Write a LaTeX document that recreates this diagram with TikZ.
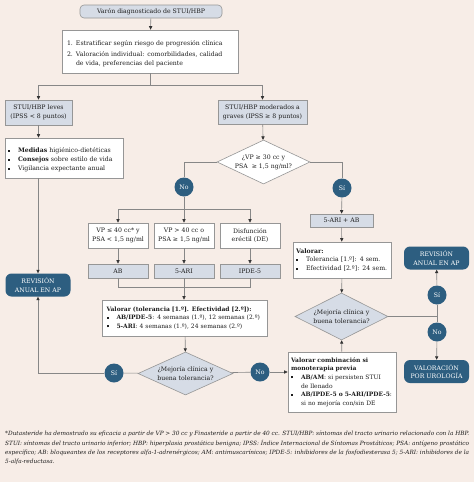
\documentclass[tikz,border=0pt]{standalone}
\usepackage{fontspec}
\setmainfont{DejaVu Serif}
\usetikzlibrary{shapes.geometric,arrows.meta}

\definecolor{bgpink}{RGB}{247,237,231}
\definecolor{boxblue}{RGB}{214,220,230}
\definecolor{edgegray}{RGB}{150,150,150}
\definecolor{linegray}{RGB}{135,135,135}
\definecolor{darkblue}{RGB}{45,94,128}
\definecolor{txt}{RGB}{30,30,30}

\newcommand{\numit}[2]{\par\hangindent=9pt\hangafter=1\noindent\makebox[9pt][l]{#1}#2\par}
\newcommand{\bul}[1]{\par\hangindent=10pt\hangafter=1\noindent\makebox[10pt][l]{\raisebox{1pt}{\rule{2pt}{2pt}}}#1\par}

\begin{document}
\begin{tikzpicture}[x=1pt,y=-1pt,
  every node/.style={font=\fontsize{6.2}{8.8}\selectfont, text=txt},
  small/.style={font=\fontsize{6}{8.6}\selectfont},
  wbox/.style={draw=edgegray, fill=white, line width=0.6pt, inner xsep=4pt, inner ysep=2pt, align=left},
  gbox/.style={draw=edgegray, fill=boxblue, line width=0.6pt, inner sep=1pt, align=center},
  decision/.style={diamond, draw=edgegray, line width=0.6pt, inner sep=0pt, aspect=2.1, align=center},
  answer/.style={circle, fill=darkblue, text=white, minimum size=19pt, inner sep=0pt},
  review/.style={rounded corners=6pt, fill=darkblue, text=white, align=center, minimum width=65pt, minimum height=23pt, inner sep=1pt, font=\fontsize{6.2}{8.6}\selectfont},
  line/.style={draw=linegray, line width=0.6pt},
  arr/.style={line, -{Triangle[length=3.5pt,width=3.2pt,color=black!80]}}]

  \useasboundingbox (0,0) rectangle (474,482);
  \fill[bgpink] (0,0) rectangle (474,482);

  % top of the tree
  \node (top) at (151,11.5) [gbox, rounded corners=4pt, minimum width=142pt, minimum height=13pt] {Varón diagnosticado de STUI/HBP};
  \node (strat) at (150,51.5) [wbox, inner xsep=5pt, text width=166pt, minimum height=43pt]
    {\numit{1.}{Estratificar según riesgo de progresión clínica}\vspace{2pt}%
     \numit{2.}{Valoración individual: comorbilidades, calidad\newline de vida, preferencias del paciente}};
  \node (leves) at (38.5,112.5) [gbox, minimum width=67pt, minimum height=25pt] {STUI/HBP leves\\(IPSS < 8 puntos)};
  \node (mod) at (262.5,112) [gbox, minimum width=89pt, minimum height=24pt] {STUI/HBP moderados a\\graves (IPSS ≥ 8 puntos)};

  % left branch
  \node (medidas) at (64,158) [wbox, inner xsep=3pt, text width=112pt, minimum height=40pt]
    {\bul{\textbf{Medidas} higiénico-dietéticas}\bul{\textbf{Consejos} sobre estilo de vida}\bul{Vigilancia expectante anual}};
  \node (rev1) at (38,285) [review] {REVISIÓN\\ANUAL EN AP};

  % moderate / severe
  \node (q1) at (263.5,162) [decision, fill=white, minimum width=93pt, minimum height=44pt] {¿VP ≥ 30 cc y\\PSA ~≥ 1,5 ng/ml?};
  \node (no1) at (184,187) [answer] {No};
  \node (si1) at (342,188) [answer] {Sí};

  \node (vp1) at (118,235.5) [wbox, inner xsep=1pt, align=center, minimum width=60pt, minimum height=25pt] {VP ≤ 40 cc* y\\PSA < 1,5 ng/ml};
  \node (vp2) at (184,235.5) [wbox, inner xsep=1pt, align=center, minimum width=60pt, minimum height=25pt] {VP > 40 cc o\\PSA ≥ 1,5 ng/ml};
  \node (de) at (250,235.5) [wbox, inner xsep=1pt, align=center, minimum width=60pt, minimum height=25pt] {Disfunción\\eréctil (DE)};
  \node (ab) at (118,271) [gbox, minimum width=60pt, minimum height=14pt] {AB};
  \node (ari) at (184,271) [gbox, minimum width=60pt, minimum height=14pt] {5-ARI};
  \node (ipde) at (250,271) [gbox, minimum width=60pt, minimum height=14pt] {IPDE-5};

  \node (val1) at (185,318) [wbox, small, text width=157pt, minimum height=36pt]
    {\textbf{Valorar (tolerancia [1.º]. Efectividad [2.º]):}\bul{\textbf{AB/IPDE-5}: 4 semanas (1.º), 12 semanas (2.º)}\bul{\textbf{5-ARI}: 4 semanas (1.º), 24 semanas (2.º)}};
  \node (q2) at (185.5,373.5) [decision, fill=boxblue, minimum width=95pt, minimum height=43pt] {¿Mejoría clínica y\\buena tolerancia?};
  \node (si2) at (114,373) [answer] {Sí};
  \node (no2) at (260,372) [answer] {No};
  \node (comb) at (342,382) [wbox, small, inner xsep=3pt, text width=102pt, minimum height=60pt]
    {\textbf{Valorar combinación si}\newline\textbf{monoterapia previa}\bul{\textbf{AB/AM}: si persisten STUI\newline de llenado}\bul{\textbf{AB/IPDE-5 o 5-ARI/IPDE-5}:\newline si no mejoría con/sin DE}};

  % combination branch
  \node (scomb) at (341.5,220.5) [gbox, minimum width=63pt, minimum height=13pt] {5-ARI + AB};
  \node (val2) at (342,260) [wbox, inner xsep=3pt, text width=92pt, minimum height=36pt]
    {\textbf{Valorar:}\bul{Tolerancia [1.º]: 4 sem.}\bul{Efectividad [2.º]: 24 sem.}};
  \node (q3) at (341.5,316.5) [decision, fill=boxblue, minimum width=93pt, minimum height=47pt] {¿Mejoría clínica y\\buena tolerancia?};
  \node (si3) at (437,295) [answer] {Sí};
  \node (no3) at (437,332) [answer] {No};
  \node (rev2) at (436.5,258) [review] {REVISIÓN\\ANUAL EN AP};
  \node (uro) at (436.5,371.5) [review] {VALORACIÓN\\POR UROLOGÍA};

  % footnote
  \node (notes) at (5,431) [anchor=north west, text width=464pt, align=justify, inner sep=0pt, font=\fontsize{5.8}{9.2}\selectfont\itshape]
    {\hyphenpenalty=10000 *Dutasteride ha demostrado su eficacia a partir de VP > 30 cc y Finasteride a partir de 40 cc. STUI/HBP: síntomas del tracto urinario relacionado con la HBP.\linebreak
     STUI: síntomas del tracto urinario inferior; HBP: hiperplasia prostática benigna; IPSS: Índice Internacional de Síntomas Prostáticos; PSA: antígeno prostático\linebreak
     específico; AB: bloqueantes de los receptores alfa-1-adrenérgicos; AM: antimuscarínicos; IPDE-5: inhibidores de la fosfodiesterasa 5; 5-ARI: inhibidores de la\linebreak
     5-alfa-reductasa.};

  % connectors
  \coordinate (fork1) at (150,85);
  \coordinate (fork2) at (184,209);
  \coordinate (join1) at (184,287);
  \coordinate (fork3) at (437,316.5);

  \draw[arr] (top) -- (strat);
  \draw[line] (strat) -- (fork1);
  \draw[arr] (fork1) -| (leves);
  \draw[arr] (fork1) -| (mod);
  \draw[arr] (leves) -- (leves |- medidas.north);
  \draw[arr] (medidas.south -| rev1) -- (rev1);
  \draw[arr] (mod) -- (q1);
  \draw[line] (q1) -| (no1);
  \draw[line] (q1) -| (si1);
  \draw[line] (no1) -- (fork2);
  \draw[arr] (fork2) -| (vp1);
  \draw[arr] (fork2) -- (vp2);
  \draw[arr] (fork2) -| (de);
  \draw[arr] (vp1) -- (ab);
  \draw[arr] (vp2) -- (ari);
  \draw[arr] (de) -- (ipde);
  \draw[line] (ab) |- (join1);
  \draw[line] (ipde) |- (join1);
  \draw[arr] (ari) -- (ari |- val1.north);
  \draw[arr] (val1) -- (q2);
  \draw[line] (q2) -- (si2);
  \draw[arr] (si2) -| (rev1);
  \draw[line] (q2) -- (no2);
  \draw[arr] (no2) -- (no2 -| comb.west);
  \draw[arr] (comb) -- (q3);
  \draw[arr] (si1) -- (scomb);
  \draw[arr] (scomb) -- (val2);
  \draw[arr] (val2) -- (q3);
  \draw[line] (q3) -- (fork3);
  \draw[line] (fork3) -- (si3);
  \draw[arr] (si3) -- (rev2);
  \draw[line] (fork3) -- (no3);
  \draw[arr] (no3) -- (uro);
\end{tikzpicture}
\end{document}
